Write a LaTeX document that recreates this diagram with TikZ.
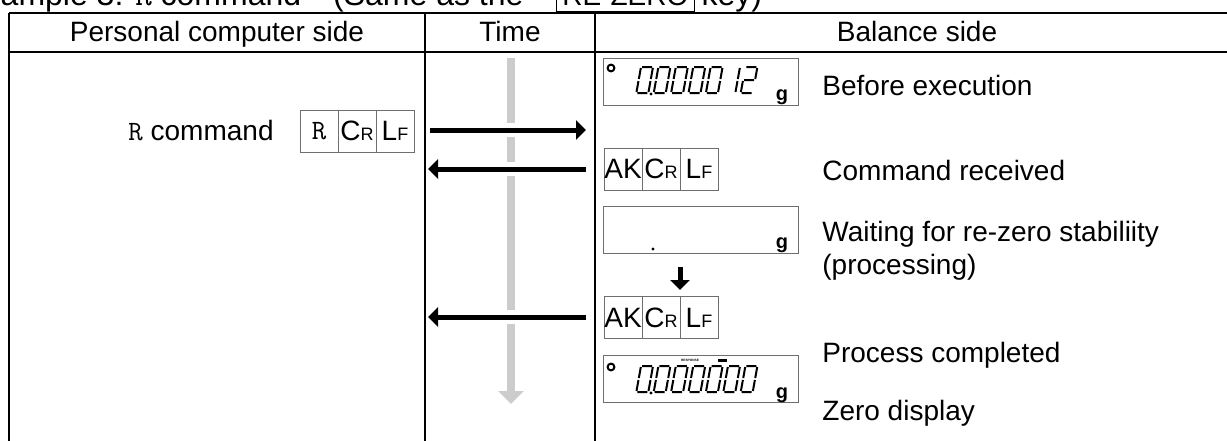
\documentclass[tikz,border=0pt]{standalone}
\usepackage{fontspec}
\setmainfont{Liberation Sans}
\usepackage{xcolor}
\usetikzlibrary{arrows.meta, positioning}
\definecolor{TimeGray}{RGB}{204,204,204}
\definecolor{FrameGray}{RGB}{110,110,110}
\newcommand{\ctl}[2]{{\fontsize{14}{14}\selectfont #1}{\fontsize{9}{9}\selectfont #2}}
\tikzset{
  % tabella
  rule/.style={line width=1pt},
  txt/.style={font=\fontsize{14}{16.5}\selectfont, inner sep=0pt},
  bnote/.style={txt, anchor=west, align=left},
  % caselle dei caratteri e display
  cell/.style={draw=FrameGray, line width=0.5pt, minimum width=19pt, minimum height=21pt,
    inner sep=0pt, outer sep=0pt, font=\fontsize{14}{14}\selectfont},
  lcd box/.style={draw=FrameGray, line width=0.5pt, minimum width=97.5pt, minimum height=23.5pt,
    inner sep=0pt, outer sep=0pt},
  lcd seg/.style={line width=1pt, xslant=0.18},
  lcd unit/.style={anchor=base, font=\bfseries\fontsize{10}{10}\selectfont, inner sep=0pt},
  % frecce
  time arrow/.style={TimeGray, line width=4pt, -{Triangle[length=6.5pt,width=12.5pt]}},
  msg arrow/.style={line width=2.5pt, -{Triangle[length=5pt,width=9.5pt]},
    preaction={draw=white, line width=7pt, -}},
  % cifre a sette segmenti
  lcd0/.pic={\draw[lcd seg] (1,0) -- (11,0) (12,1) -- (12,12) (12,14) -- (12,25)
    (11,26) -- (1,26) (0,25) -- (0,14) (0,12) -- (0,1);},
  lcd1/.pic={\draw[lcd seg] (12,1) -- (12,12) (12,14) -- (12,25);},
  lcd2/.pic={\draw[lcd seg] (1,0) -- (11,0) (12,1) -- (12,12) (11,13) -- (1,13)
    (0,14) -- (0,25) (1,26) -- (11,26);}
}

\begin{document}
\begin{tikzpicture}[x=0.5pt, y=-0.5pt]
  \useasboundingbox (0,0) rectangle (1227,440);
  % titolo (tagliato dal bordo)
  \node[anchor=base west, font=\fontsize{16}{16}\selectfont, inner sep=0pt] (title) at (-37,5)
    {Example 3: {\ttfamily R} command\quad(Same as the\hspace{1em}{\fboxsep=3pt\fbox{\fontsize{14}{14}\selectfont RE-ZERO}}\hspace{0.2em}key)};
  % tabella
  \draw[rule] (9,13) -- (1240,13) (9,52) -- (1240,52);
  \draw[rule] (9,13) -- (9,450) (425,13) -- (425,450) (595,13) -- (595,450) (1240,13) -- (1240,450);
  \node[txt, anchor=base] (pcHead) at (217,41) {Personal computer side};
  \node[txt, anchor=base] (timeHead) at (510,41) {Time};
  \node[txt, anchor=base] (balHead) at (917,41) {Balance side};

  % lato computer
  \node[txt, anchor=east] (rCmd) at (274,131) {{\ttfamily R} command};
  \node[cell] (rC1) at (319,131) {\ttfamily R};
  \node[cell, right=0pt of rC1] (rC2) {\ctl{C}{R}};
  \node[cell, right=0pt of rC2] (rC3) {\ctl{L}{F}};

  % lato bilancia
  \node[lcd box] (disp1) at (700.5,81.5) {};
  \draw[line width=1pt] (611,68) circle (1.7pt);
  \foreach \i in {0,...,4} \pic at (641+17.4*\i,67) {lcd0};
  \pic at (641+17.4*5,67) {lcd1};
  \pic at (641+17.4*6,67) {lcd2};
  \fill (651,94) circle (0.8pt);
  \node[lcd unit] at (782,100) {g};

  \node[cell] (ak1C1) at (623,169) {AK};
  \node[cell, right=0pt of ak1C1] (ak1C2) {\ctl{C}{R}};
  \node[cell, right=0pt of ak1C2] (ak1C3) {\ctl{L}{F}};

  \node[lcd box] (disp2) at (700.5,229.5) {};
  \fill (653,249) circle (0.8pt);
  \node[lcd unit] at (782,248) {g};

  \coordinate (waitTop) at (680,267);
  \coordinate (waitBot) at (680,290);
  \draw[msg arrow] (waitTop) -- (waitBot);

  \node[cell] (ak2C1) at (623,317.5) {AK};
  \node[cell, right=0pt of ak2C1] (ak2C2) {\ctl{C}{R}};
  \node[cell, right=0pt of ak2C2] (ak2C3) {\ctl{L}{F}};

  \node[lcd box] (disp3) at (700.5,379) {};
  \draw[line width=1pt] (611,367) circle (1.7pt);
  \foreach \i in {0,...,6} \pic at (641+17.4*\i,366) {lcd0};
  \fill (651,393) circle (0.8pt);
  \node[lcd unit] at (782,398) {g};
  \node[font=\bfseries\fontsize{1.6}{2}\selectfont, inner sep=0pt] at (690,360.5) {RESPONSE};
  \fill (718,359) rectangle (727,362);

  \node[bnote] (noteBefore) at (822,85) {Before execution};
  \node[bnote] (noteRecv) at (822,170) {Command received};
  \node[bnote] (noteWait) at (822,251) {Waiting for re-zero stabiliity\\(processing)};
  \node[bnote] (noteDone) at (822,355) {Process completed};
  \node[bnote] (noteZero) at (822,413) {Zero display};

  % asse del tempo e messaggi
  \coordinate (tStart) at (511,58);
  \coordinate (tEnd) at (511,404);
  \draw[time arrow] (tStart) -- (tEnd);
  \coordinate (pcOut) at (430,130);
  \coordinate (balIn) at (586,130);
  \coordinate (balOut1) at (586,169);
  \coordinate (pcIn1) at (428,169);
  \coordinate (balOut2) at (586,317);
  \coordinate (pcIn2) at (428,317);
  \draw[msg arrow] (pcOut) -- (balIn);
  \draw[msg arrow] (balOut1) -- (pcIn1);
  \draw[msg arrow] (balOut2) -- (pcIn2);
\end{tikzpicture}
\end{document}
